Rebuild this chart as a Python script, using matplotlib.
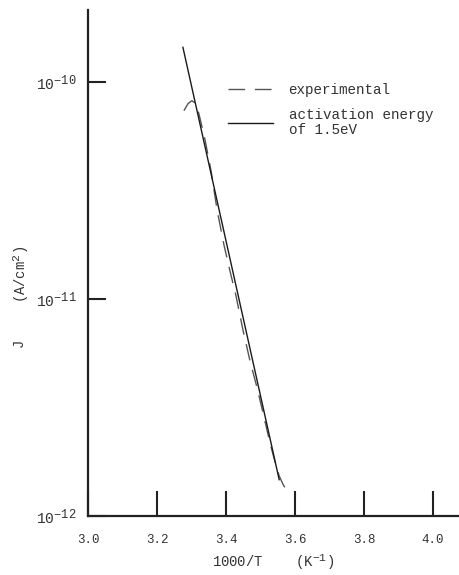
import numpy as np
import matplotlib
matplotlib.use('Agg')
import matplotlib.pyplot as plt
import matplotlib._mathtext as mathtext_internal

plt.rcParams['font.family'] = ['Liberation Mono', 'DejaVu Sans Mono']
plt.rcParams['mathtext.fontset'] = 'custom'
plt.rcParams['mathtext.rm'] = 'Liberation Mono'
plt.rcParams['mathtext.it'] = 'Liberation Mono'
plt.rcParams['mathtext.default'] = 'rm'
# the typed exponents in the scan are nearly full size
mathtext_internal.SHRINK_FACTOR = 0.82

# experimental curve
exp_x = [3.278, 3.290, 3.301, 3.313, 3.322, 3.339, 3.357, 3.374, 3.394, 3.412,
         3.429, 3.449, 3.470, 3.490, 3.507, 3.528, 3.545, 3.554, 3.565, 3.577]
exp_j = [7.35e-11, 7.93e-11, 8.17e-11, 7.93e-11, 7.05e-11, 5.41e-11, 3.85e-11,
         2.57e-11, 1.77e-11, 1.33e-11, 1.03e-11, 7.19e-12, 5.13e-12, 3.89e-12,
         2.99e-12, 2.15e-12, 1.70e-12, 1.53e-12, 1.40e-12, 1.30e-12]

# 1.5 eV activation energy line
fit_x = [3.275, 3.554]
fit_j = [1.44e-10, 1.47e-12]

xticks = [3.0, 3.2, 3.4, 3.6, 3.8, 4.0]
xticklabels = ['3.0', '3.2', '3.4', '3.6', '3.8', '4.0']
yticks = [1e-12, 1e-11, 1e-10]
yticklabels = [r'$10^{-12}$', r'$10^{-11}$', r'$10^{-10}$']

fig = plt.figure(figsize=(4.59, 5.75), dpi=100)
ax = fig.add_axes([0.1917, 0.1026, 0.8083, 0.88])

ax.plot(exp_x, exp_j, color='#555555', lw=1.0, dashes=(12, 7), label='experimental')
ax.plot(fit_x, fit_j, color='#1a1a1a', lw=1.0, label='activation energy\nof 1.5eV')

ax.set_yscale('log')
ax.set_xlim(3.0, 4.075)
ax.set_ylim(1e-12, 10 ** -9.67)

ax.spines['top'].set_visible(False)
ax.spines['right'].set_visible(False)
ax.spines['left'].set_linewidth(1.6)
ax.spines['bottom'].set_linewidth(1.6)
ax.spines['left'].set_color('#222222')
ax.spines['bottom'].set_color('#222222')

ax.set_xticks(xticks)
ax.set_xticklabels(xticklabels, fontsize=9, color='#333333')
ax.set_yticks(yticks)
ax.set_yticklabels(yticklabels, fontsize=10.5, color='#333333')
ax.minorticks_off()
ax.tick_params(axis='x', direction='in', length=18, width=1.5, pad=13, color='#222222')
ax.tick_params(axis='y', direction='in', length=13, width=1.5, pad=8, color='#222222')

ax.set_xlabel('1000/T    (K$^{-1}$)', fontsize=10, color='#333333', labelpad=4)
fig.text(0.04, 0.403, 'J', rotation=90, fontsize=10, color='#333333', ha='center', va='center')
fig.text(0.045, 0.523, '(A/cm$^2$)', rotation=90, fontsize=10, color='#333333',
         ha='center', va='center')

leg = ax.legend(loc='upper left', bbox_to_anchor=(0.342, 0.882), frameon=False, fontsize=10.3,
                handlelength=3.15, handletextpad=1.1, labelspacing=0.8, labelcolor='#333333')
leg.get_texts()[1].set_linespacing(1.05)

fig.savefig('out.png', dpi=100)
